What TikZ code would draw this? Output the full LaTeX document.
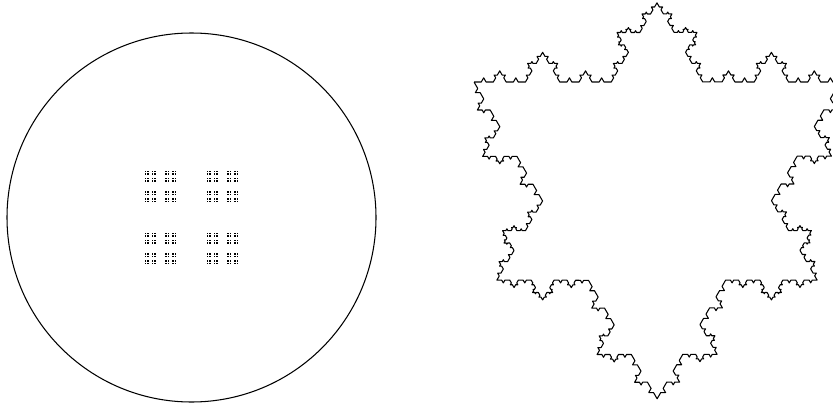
\documentclass[tikz,border=0pt]{standalone}
\usepackage{tikz}
\usetikzlibrary{decorations}

\pgfdeclaredecoration{flake edge}{draw}{
  \state{draw}[width=\pgfdecoratedinputsegmentremainingdistance]{
    \pgfpathlineto{\pgfpoint{0.375\pgfdecoratedinputsegmentremainingdistance}{0pt}}
    \pgfpathlineto{\pgfpoint{0.5\pgfdecoratedinputsegmentremainingdistance}{0.2165\pgfdecoratedinputsegmentremainingdistance}}
    \pgfpathlineto{\pgfpoint{0.625\pgfdecoratedinputsegmentremainingdistance}{0pt}}
    \pgfpathlineto{\pgfpoint{\pgfdecoratedinputsegmentremainingdistance}{0pt}}
  }
}
\def\dustpos{0,2,6,8,18,20,24,26,54,56,60,62,72,74,78,80}
\def\dustcell{0.02296}

\begin{document}
\begin{tikzpicture}[x=1cm,y=1cm,line width=0.6pt]
  \useasboundingbox (0,0) rectangle (16.66,8.16);
  \clip (0,0) rectangle (16.66,8.16);

  \coordinate (disk) at (3.83,3.81);
  \draw (disk) circle (3.69);

  \coordinate (dust) at (2.90,2.88);
  \foreach \u in \dustpos
    \foreach \v in \dustpos
      \fill ([shift={(\u*\dustcell-0.004,\v*\dustcell-0.004)}]dust) rectangle ++(\dustcell+0.008,\dustcell+0.008);

  \coordinate (UL) at (9.48,6.52);
  \coordinate (UR) at (16.80,6.52);
  \coordinate (B) at (13.14,0.18);
  \draw[decoration=flake edge,line join=round]
    decorate{decorate{decorate{decorate{(UL) -- (UR) -- (B) -- cycle}}}};
\end{tikzpicture}
\end{document}
